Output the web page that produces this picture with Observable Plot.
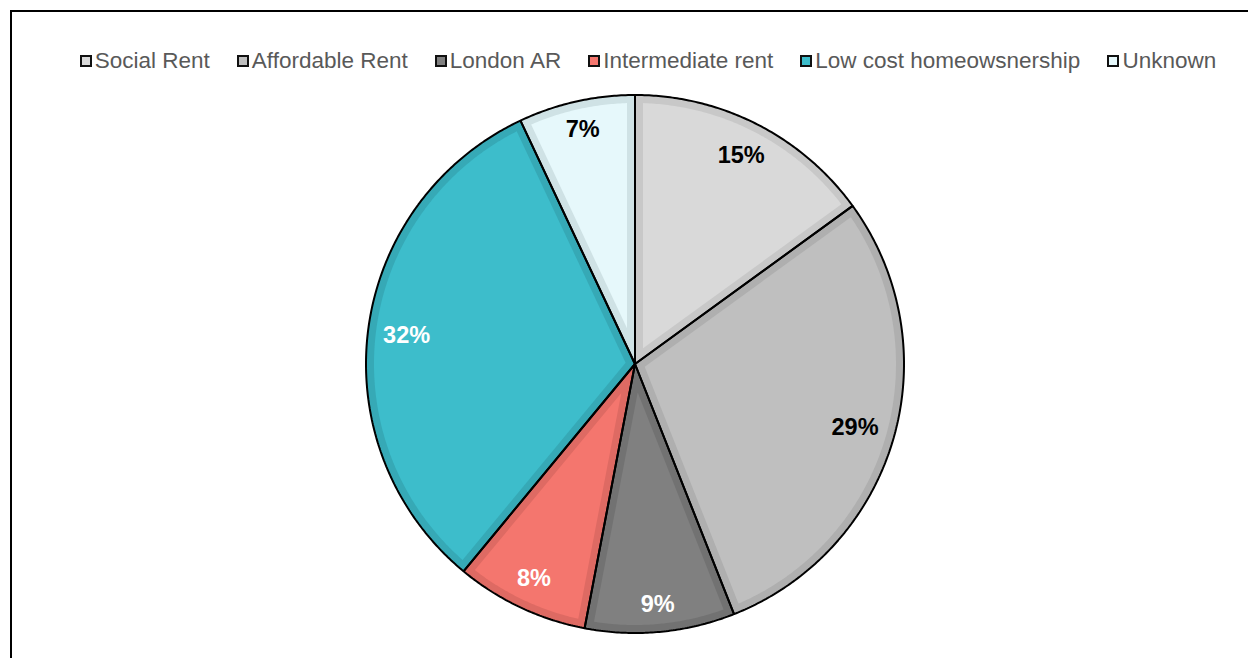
<!DOCTYPE html>
<html>
<head>
<meta charset="utf-8">
<script src="https://cdn.jsdelivr.net/npm/d3@7"></script>
<script src="https://cdn.jsdelivr.net/npm/@observablehq/plot@0.6"></script>
<style>
html, body { margin: 0; padding: 0; background: #fff; overflow: hidden; }
#frame { position: absolute; left: 10px; top: 10px; width: 1236px; height: 646px;
  border-left: 2px solid #000; border-top: 2px solid #000; }
#legend { box-sizing: border-box; height: 80px; padding-top: 18px; padding-left: 36px;
  display: flex; justify-content: center; align-items: center;
  font-family: "Liberation Sans", Arial, sans-serif; font-size: 22.5px; color: #595959; }
.item { display: flex; align-items: center; margin: 0 13.5px; white-space: nowrap; }
.sw { width: 8px; height: 8px; border: 2.5px solid #111; margin-right: 3px; }
#chart svg { display: block; }
</style>
</head>
<body>
<div id="frame">
  <div id="legend"></div>
  <div id="chart"></div>
</div>
<script>
const categories = ["Social Rent", "Affordable Rent", "London AR", "Intermediate rent", "Low cost homeowsnership", "Unknown"];
const shares = [15, 29, 9, 8, 32, 7];
const fills = ["#D9D9D9", "#BFBFBF", "#808080", "#F4766E", "#3DBDCB", "#E6F8FB"];
const bands = ["#C8C8C8", "#AFAFAF", "#727272", "#DE6A63", "#36A9B6", "#CFE2E5"];
const labelColors = ["#000000", "#000000", "#ffffff", "#ffffff", "#ffffff", "#000000"];

// legend
const legend = document.getElementById("legend");
categories.forEach((c, i) => {
  const item = document.createElement("div");
  item.className = "item";
  const sw = document.createElement("span");
  sw.className = "sw";
  sw.style.background = fills[i];
  const t = document.createElement("span");
  t.textContent = c;
  item.appendChild(sw);
  item.appendChild(t);
  legend.appendChild(item);
});

// pie geometry (unit circle, angles clockwise from 12 o'clock)
const Rpx = 269;
const d = 8 / Rpx;
const total = d3.sum(shares);
let acc = 0;
const slices = shares.map((v, i) => {
  const a0 = acc / total * 2 * Math.PI; acc += v;
  const a1 = acc / total * 2 * Math.PI;
  return {i, a0, a1};
});
const pt = (r, a) => ({x: r * Math.sin(a), y: r * Math.cos(a)});
function arc(r, a0, a1) {
  const n = Math.max(2, Math.ceil((a1 - a0) / (Math.PI / 360)));
  return d3.range(n + 1).map(k => pt(r, a0 + (a1 - a0) * k / n));
}
const wedge = s => [pt(0, 0), ...arc(1, s.a0, s.a1), pt(0, 0)];
function inset(s) {
  const h = (s.a1 - s.a0) / 2, m = (s.a0 + s.a1) / 2;
  const apex = pt(d / Math.sin(h), m);
  const da = Math.asin(d / (1 - d));
  return [apex, ...arc(1 - d, s.a0 + da, s.a1 - da), apex];
}

const marks = [];
slices.forEach(s => {
  marks.push(Plot.line(wedge(s), {x: "x", y: "y", fill: bands[s.i], stroke: "none"}));
  marks.push(Plot.line(inset(s), {x: "x", y: "y", fill: fills[s.i], stroke: "none"}));
});
slices.forEach(s => {
  marks.push(Plot.line(wedge(s), {x: "x", y: "y", fill: "none", stroke: "#000", strokeWidth: 2, strokeLinejoin: "miter"}));
});

// "inside end" label placement: label box kept a fixed gap inside the rim
const fontSize = 23.5;
const labelData = slices.map(s => {
  const text = shares[s.i] + "%";
  const m = (s.a0 + s.a1) / 2;
  const w = fontSize * (0.556 * (text.length - 1) + 0.889);
  const h = fontSize * 1.0;
  const extent = Math.abs(Math.sin(m)) * w / 2 + Math.abs(Math.cos(m)) * h / 2;
  const r = 1 - (14 + extent) / Rpx;
  return {...pt(r, m), text, dark: labelColors[s.i] === "#000000"};
});
marks.push(Plot.text(labelData.filter(l => l.dark), {x: "x", y: "y", text: "text", fill: "#000", fontSize, fontWeight: "bold"}));
marks.push(Plot.text(labelData.filter(l => !l.dark), {x: "x", y: "y", text: "text", fill: "#fff", fontSize, fontWeight: "bold"}));

const chart = Plot.plot({
  width: 1236, height: 566,
  marginLeft: 353.5, marginRight: 344.5, marginTop: 2.5, marginBottom: 25.5,
  x: {domain: [-1, 1], axis: null},
  y: {domain: [-1, 1], axis: null},
  style: {fontFamily: "'Liberation Sans', Arial, sans-serif", background: "transparent", overflow: "visible"},
  marks
});
document.getElementById("chart").appendChild(chart);
</script>
</body>
</html>
